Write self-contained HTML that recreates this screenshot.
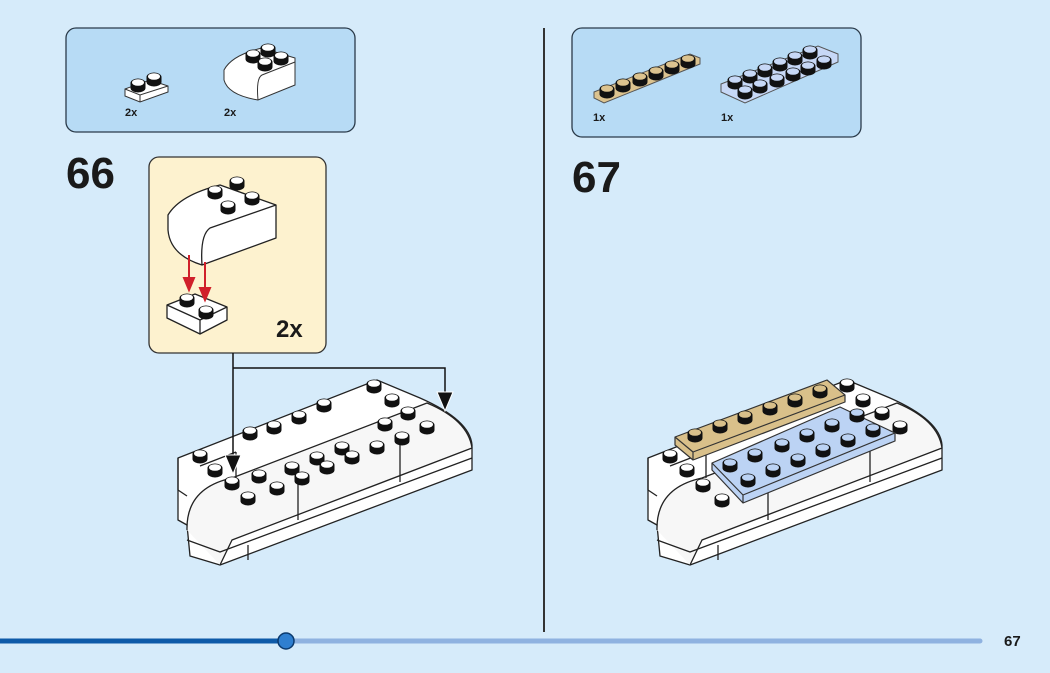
<!DOCTYPE html>
<html><head><meta charset="utf-8"><style>
html,body{margin:0;padding:0;background:#d6ebfa;}
svg{display:block}
text{font-family:"Liberation Sans",sans-serif;font-weight:bold;fill:#1a1a1a}
</style></head><body>
<svg width="1050" height="673" viewBox="0 0 1050 673" xmlns="http://www.w3.org/2000/svg">
<defs>
<g id="s"><ellipse cx="0" cy="3" rx="7.5" ry="4.5" fill="#111"/><rect x="-7.5" y="-2" width="15" height="5" fill="#111"/><ellipse cx="0" cy="-2" rx="7.5" ry="4.5" fill="#111"/><ellipse cx="0" cy="-2.5" rx="6" ry="3.3" fill="currentColor"/></g>
<g id="body" stroke="#222" stroke-width="1.3" stroke-linejoin="round">
<path d="M178,458 L377,380 L420,398 Q470,420 472,445 L472,470 L220,565 L190,556 L187,525 L178,520 Z" fill="#fff"/>
<path d="M178,458 L178,490 L187,496" fill="none"/>
<path d="M187,530 Q186,488 232,478 L427,403 Q468,420 472,448 L232,540 L220,565" fill="#f7f7f7"/>
<path d="M187,540 L220,552 L472,458" fill="none"/>
<path d="M298,478 L298,520 M400,440 L400,482 M248,545 L248,560"/>
<path d="M200,466 L236,452 M236,452 L236,478" fill="none"/>
</g>
</defs>

<rect x="66" y="28" width="289" height="104" rx="10" fill="#b7dbf5" stroke="#2b3b4a" stroke-width="1.3"/>
<rect x="572" y="28" width="289" height="109" rx="10" fill="#b7dbf5" stroke="#2b3b4a" stroke-width="1.3"/>

<g stroke="#333" stroke-width="1">
<path d="M125,89 L150,80 L168,86 L168,92 L140,102 L125,96 Z" fill="#fff"/>
<path d="M125,89 L140,95 L168,86 M140,95 L140,102" fill="none"/>
<path d="M224,70 Q232,55 262,48 L295,58 L295,85 L258,100 Q228,95 224,80 Z" fill="#fff"/>
<path d="M258,100 Q256,78 262,75 L295,62" fill="none"/>
</g>
<use href="#s" x="138" y="85" style="color:#fff"/><use href="#s" x="154" y="79" style="color:#fff"/>
<use href="#s" x="253" y="56" style="color:#fff"/><use href="#s" x="268" y="50" style="color:#fff"/><use href="#s" x="265" y="64" style="color:#fff"/><use href="#s" x="281" y="58" style="color:#fff"/>
<text x="125" y="116" font-size="11">2x</text><text x="224" y="116" font-size="11">2x</text>

<g stroke="#555" stroke-width="1">
<path d="M594,92 L690,54 L700,58 L700,64 L604,103 L594,98 Z" fill="#dcc38f"/>
<path d="M721,84 L818,46 L838,54 L838,62 L745,103 L721,92 Z" fill="#c7d8f6"/>
</g>
<use href="#s" x="607" y="91" style="color:#dcc38f"/><use href="#s" x="623" y="85" style="color:#dcc38f"/><use href="#s" x="640" y="79" style="color:#dcc38f"/><use href="#s" x="656" y="73" style="color:#dcc38f"/><use href="#s" x="672" y="67" style="color:#dcc38f"/><use href="#s" x="688" y="61" style="color:#dcc38f"/>
<use href="#s" x="735" y="82" style="color:#c7d8f6"/><use href="#s" x="750" y="76" style="color:#c7d8f6"/><use href="#s" x="765" y="70" style="color:#c7d8f6"/><use href="#s" x="780" y="64" style="color:#c7d8f6"/><use href="#s" x="795" y="58" style="color:#c7d8f6"/><use href="#s" x="810" y="52" style="color:#c7d8f6"/>
<use href="#s" x="745" y="92" style="color:#c7d8f6"/><use href="#s" x="760" y="86" style="color:#c7d8f6"/><use href="#s" x="777" y="80" style="color:#c7d8f6"/><use href="#s" x="793" y="74" style="color:#c7d8f6"/><use href="#s" x="808" y="68" style="color:#c7d8f6"/><use href="#s" x="824" y="62" style="color:#c7d8f6"/>
<text x="593" y="121" font-size="11">1x</text><text x="721" y="121" font-size="11">1x</text>

<text x="66" y="188" font-size="44">66</text>
<text x="572" y="192" font-size="44">67</text>

<line x1="544" y1="28" x2="544" y2="632" stroke="#333" stroke-width="2"/>

<rect x="149" y="157" width="177" height="196" rx="10" fill="#fdf2cf" stroke="#333" stroke-width="1.3"/>
<g stroke="#222" stroke-width="1.3" stroke-linejoin="round">
<path d="M168,215 Q180,195 220,185 L276,205 L276,238 L202,265 Q170,255 168,230 Z" fill="#fff"/>
<path d="M202,265 Q200,235 210,228 L276,205" fill="none"/>
<path d="M167,305 L195,294 L227,307 L227,320 L200,334 L167,318 Z" fill="#fff"/>
<path d="M167,305 L200,320 L227,307 M200,320 L200,334" fill="none"/>
</g>
<use href="#s" x="215" y="192" style="color:#fff"/><use href="#s" x="237" y="183" style="color:#fff"/><use href="#s" x="228" y="207" style="color:#fff"/><use href="#s" x="252" y="198" style="color:#fff"/>
<use href="#s" x="187" y="300" style="color:#fff"/><use href="#s" x="206" y="312" style="color:#fff"/>
<g stroke="#d0202a" stroke-width="2" fill="#d0202a">
<line x1="189" y1="255" x2="189" y2="280"/><path d="M184,278 L194,278 L189,290 Z"/>
<line x1="205" y1="262" x2="205" y2="290"/><path d="M200,288 L210,288 L205,300 Z"/>
</g>
<text x="276" y="337" font-size="24">2x</text>

<use href="#body"/>
<g>
<use href="#s" x="374" y="386" style="color:#fff"/><use href="#s" x="392" y="400" style="color:#fff"/><use href="#s" x="408" y="413" style="color:#fff"/><use href="#s" x="427" y="427" style="color:#fff"/>
<use href="#s" x="385" y="424" style="color:#fff"/><use href="#s" x="402" y="438" style="color:#fff"/>
<use href="#s" x="250" y="433" style="color:#fff"/><use href="#s" x="274" y="427" style="color:#fff"/><use href="#s" x="299" y="417" style="color:#fff"/><use href="#s" x="324" y="405" style="color:#fff"/>
<use href="#s" x="342" y="448" style="color:#fff"/><use href="#s" x="317" y="458" style="color:#fff"/><use href="#s" x="292" y="468" style="color:#fff"/>
<use href="#s" x="377" y="447" style="color:#fff"/><use href="#s" x="352" y="457" style="color:#fff"/><use href="#s" x="327" y="467" style="color:#fff"/><use href="#s" x="302" y="478" style="color:#fff"/>
<use href="#s" x="200" y="456" style="color:#fff"/><use href="#s" x="215" y="470" style="color:#fff"/>
<use href="#s" x="232" y="483" style="color:#fff"/><use href="#s" x="259" y="476" style="color:#fff"/><use href="#s" x="248" y="498" style="color:#fff"/><use href="#s" x="277" y="488" style="color:#fff"/>
</g>
<g stroke="#111" stroke-width="1.5" fill="none">
<path d="M233,353 L233,462 M233,368 L445,368 L445,398"/>
</g>
<path d="M225,455 L241,455 L233,474 Z M437,392 L453,392 L445,411 Z" fill="#111" stroke="#fff" stroke-width="1"/>

<use href="#body" x="470"/>
<use href="#s" x="670" y="456" style="color:#fff"/><use href="#s" x="687" y="470" style="color:#fff"/><use href="#s" x="703" y="485" style="color:#fff"/><use href="#s" x="722" y="500" style="color:#fff"/>
<use href="#s" x="847" y="385" style="color:#fff"/><use href="#s" x="863" y="400" style="color:#fff"/><use href="#s" x="882" y="413" style="color:#fff"/><use href="#s" x="900" y="427" style="color:#fff"/>
<g stroke="#333" stroke-width="1.2" stroke-linejoin="round">
<path d="M675,437 L827,380 L845,395 L845,402 L693,460 L675,445 Z" fill="#d9c08a"/>
<path d="M675,437 L693,452 L845,395 M693,452 L693,460" fill="none"/>
<path d="M712,463 L840,407 L895,433 L895,441 L743,503 L712,470 Z" fill="#bcd3f4"/>
<path d="M712,463 L743,495 L895,433 M743,495 L743,503" fill="none"/>
</g>
<use href="#s" x="695" y="435" style="color:#d9c08a"/><use href="#s" x="720" y="426" style="color:#d9c08a"/><use href="#s" x="745" y="417" style="color:#d9c08a"/><use href="#s" x="770" y="408" style="color:#d9c08a"/><use href="#s" x="795" y="400" style="color:#d9c08a"/><use href="#s" x="820" y="391" style="color:#d9c08a"/>
<use href="#s" x="730" y="465" style="color:#bcd3f4"/><use href="#s" x="755" y="455" style="color:#bcd3f4"/><use href="#s" x="782" y="445" style="color:#bcd3f4"/><use href="#s" x="807" y="435" style="color:#bcd3f4"/><use href="#s" x="832" y="425" style="color:#bcd3f4"/><use href="#s" x="857" y="415" style="color:#bcd3f4"/>
<use href="#s" x="748" y="480" style="color:#bcd3f4"/><use href="#s" x="773" y="470" style="color:#bcd3f4"/><use href="#s" x="798" y="460" style="color:#bcd3f4"/><use href="#s" x="823" y="450" style="color:#bcd3f4"/><use href="#s" x="848" y="440" style="color:#bcd3f4"/><use href="#s" x="873" y="430" style="color:#bcd3f4"/>

<line x1="285" y1="641" x2="980" y2="641" stroke="#8fb2e0" stroke-width="5" stroke-linecap="round"/>
<line x1="0" y1="641" x2="285" y2="641" stroke="#0e5aa8" stroke-width="5"/>
<circle cx="286" cy="641" r="8" fill="#2f7fd0" stroke="#0b3a6e" stroke-width="1.5"/>
<text x="1004" y="646" font-size="15">67</text>
</svg>
</body></html>
